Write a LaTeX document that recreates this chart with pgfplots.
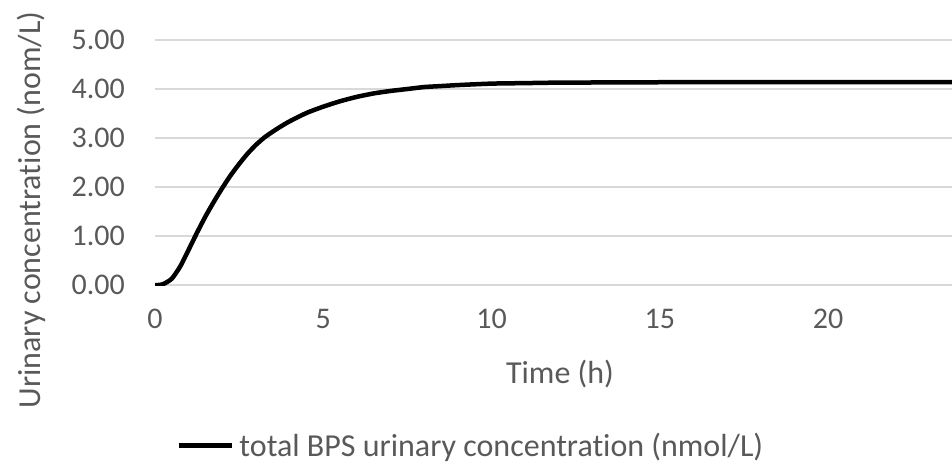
\documentclass[border=0pt]{standalone}
\usepackage{pgfplots}
\pgfplotsset{compat=1.18}
\usepackage{fontspec}
\setmainfont{Carlito}[Ligatures={NoCommon}]
\definecolor{txt}{HTML}{595959}
\definecolor{grd}{HTML}{D9D9D9}
\pgfplotstableread{
t y
0 0
0.1 0.0
0.25 0.02
0.5 0.13
0.75 0.38
1.0 0.72
1.25 1.07
1.5 1.40
1.75 1.70
2.0 1.98
2.25 2.24
2.5 2.47
2.75 2.68
3.0 2.86
3.25 3.01
3.5 3.13
3.75 3.24
4.0 3.34
4.5 3.51
5.0 3.64
5.5 3.75
6.0 3.84
6.5 3.91
7.0 3.96
7.5 4.00
8.0 4.04
8.5 4.06
9.0 4.08
10.0 4.11
11.0 4.12
12.0 4.13
14.0 4.135
16.0 4.14
20.0 4.14
24.0 4.14
}\datatable
\begin{document}
\begin{tikzpicture}[x=1pt,y=1pt]
\useasboundingbox (0,0) rectangle (952,463);
\begin{axis}[
  at={(155pt,178pt)}, anchor=south west,
  scale only axis, width=797pt, height=245pt,
  xmin=0, xmax=23.685, ymin=0, ymax=5,
  xtick={0,5,10,15,20}, ytick={0,1,2,3,4,5},
  ymajorgrids, grid style={grd, line width=1.3pt},
  axis line style={draw=none}, major tick length=0pt,
  /pgf/number format/assume math mode=true,
  tick label style={font=\fontsize{30}{36}\selectfont, text=txt},
  xticklabel style={anchor=north, inner sep=0pt, yshift=-24pt},
  yticklabel style={anchor=east, inner sep=0pt, xshift=-30pt, /pgf/number format/.cd, fixed, fixed zerofill, precision=2},
  legend style={at={(axis description cs:0.0276,-0.655)}, anchor=west, draw=none, fill=none, inner sep=0pt, outer sep=0pt,
    font=\fontsize{32}{38}\selectfont, text=txt, nodes={inner sep=0pt}, column sep=5pt},
  legend image code/.code={\draw[line width=4.5pt] (0pt,0pt) -- (53pt,0pt);},
]
\addplot[black, line width=4.5pt, line join=round, smooth, tension=0.4] table[x=t, y=y] {\datatable};
\addlegendentry{total BPS urinary concentration (nmol/L)}
\end{axis}
\node[anchor=base, inner sep=0pt, font=\fontsize{32}{38}\selectfont, text=txt] at (560,80) {Time (h)};
\node[rotate=90, anchor=base, inner sep=0pt, font=\fontsize{32}{38}\selectfont, text=txt] at (40,253) {Urinary concentration (nom/L)};
\end{tikzpicture}
\end{document}
